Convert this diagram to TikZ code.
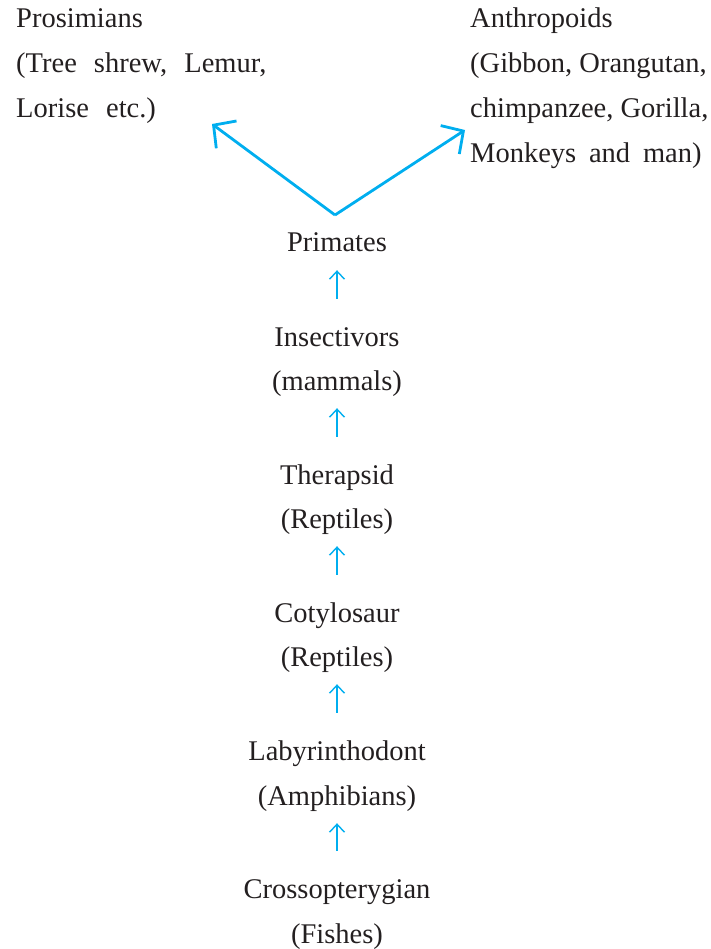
\documentclass[tikz,border=0pt]{standalone}
\usepackage{fontspec}
\setmainfont{Liberation Serif}
\usetikzlibrary{arrows.meta}
\definecolor{arrowcyan}{RGB}{0,174,239}
\definecolor{textgray}{RGB}{35,31,32}
\begin{document}
\begin{tikzpicture}[x=1pt,y=-1pt,
  lbl/.style={inner sep=0pt, text height=19pt, text depth=0pt, text=textgray,
              font=\fontsize{28.5}{45}\selectfont},
  ctr/.style={lbl, anchor=base},
  lft/.style={lbl, anchor=base west},
  smallarrow/.style={draw=arrowcyan, line width=1.4pt,
     -{Straight Barb[length=8pt,width=15pt,line width=1.4pt]},
     shorten <=28pt, shorten >=18pt},
  bigarrow/.style={draw=arrowcyan, line width=2.8pt,
     -{Straight Barb[length=16pt,width=34pt,line width=2.8pt]}}]
\useasboundingbox (0,0) rectangle (710,949);

% left column
\node[lft] (p1) at (16,27.5) {Prosimians};
\node[lft] (p2) at (16,72.5) {(Tree\hspace{0.35em} shrew,\hspace{0.35em} Lemur,};
\node[lft] (p3) at (16,117.5) {Lorise\hspace{0.35em} etc.)};

% right column
\node[lft] (a1) at (470,27.5) {Anthropoids};
\node[lft] (a2) at (470,72.5) {(Gibbon, Orangutan,};
\node[lft] (a3) at (470,118) {chimpanzee, Gorilla,};
\node[lft] (a4) at (470,163) {Monkeys\hspace{0.2em} and\hspace{0.2em} man)};

% central chain
\node[ctr] (prim) at (337,252) {Primates};
\node[ctr] (ins)  at (337,346) {Insectivors};
\node[ctr] (mam)  at (337,390) {(mammals)};
\node[ctr] (ther) at (337,484) {Therapsid};
\node[ctr] (rep1) at (337,528) {(Reptiles)};
\node[ctr] (coty) at (337,622) {Cotylosaur};
\node[ctr] (rep2) at (337,666) {(Reptiles)};
\node[ctr] (laby) at (337,760) {Labyrinthodont};
\node[ctr] (amph) at (337,805) {(Amphibians)};
\node[ctr] (cros) at (337,898) {Crossopterygian};
\node[ctr] (fish) at (337,943) {(Fishes)};

\draw[smallarrow] (ins.north)  -- (prim.south);
\draw[smallarrow] (ther.north) -- (mam.south);
\draw[smallarrow] (coty.north) -- (rep1.south);
\draw[smallarrow] (laby.north) -- (rep2.south);
\draw[smallarrow] (cros.north) -- (amph.south);

% branching arrows
\coordinate (apex) at (335,215);
\coordinate (ltip) at (212,124);
\coordinate (rtip) at (465,130);
\draw[bigarrow] (apex) -- (ltip);
\draw[bigarrow] (apex) -- (rtip);
\end{tikzpicture}
\end{document}
